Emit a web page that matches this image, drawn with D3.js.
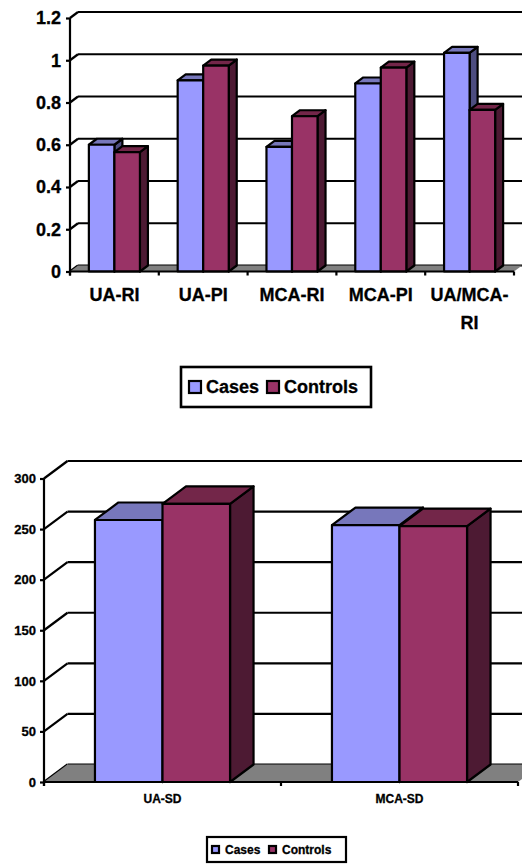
<!DOCTYPE html>
<html>
<head>
<meta charset="utf-8">
<script src="https://cdn.jsdelivr.net/npm/d3@7"></script>
<style>
  html, body { margin: 0; padding: 0; background: #fff; }
  svg { display: block; }
  text { font-family: "Liberation Sans", Arial, sans-serif; font-weight: bold; fill: #000; stroke: #000; stroke-width: 0.3px; }
</style>
</head>
<body>
<svg id="chart" width="522" height="867"></svg>
<script>
// DATA
const seriesNames = ["Cases", "Controls"];

const indexCategories = ["UA-RI", "UA-PI", "MCA-RI", "MCA-PI", "UA/MCA-RI"];
const indexCases = [0.6, 0.905, 0.59, 0.89, 1.035];
const indexControls = [0.565, 0.975, 0.735, 0.965, 0.765];
const indexTicks = [0, 0.2, 0.4, 0.6, 0.8, 1, 1.2];

const sdCategories = ["UA-SD", "MCA-SD"];
const sdCases = [259, 254];
const sdControls = [275, 253];
const sdTicks = [0, 50, 100, 150, 200, 250, 300];

// colours per series: front, top, side
const colors = {
  Cases: ["#9999ff", "#7777bb", "#4d4d80"],
  Controls: ["#993366", "#732649", "#4d1a33"]
};

const svg = d3.select("#chart");

// one fake-3D column chart, the depth is a fixed offset up and to the right
function drawChart(o) {
  const g = svg.append("g");

  const x0 = d3.scaleBand()
    .domain(o.categories)
    .range([o.left, o.right])
    .paddingInner(o.padding)
    .paddingOuter(o.padding / 2);

  const x1 = d3.scaleBand()
    .domain(seriesNames)
    .range([0, x0.bandwidth()]);

  const y = d3.scaleLinear()
    .domain(o.domain)
    .range([o.bottom, o.top]);

  // back wall gridlines and the diagonals on the left wall
  g.selectAll("line.grid")
    .data(o.ticks)
    .enter()
    .append("line")
    .attr("class", "grid")
    .attr("x1", o.left + o.dx)
    .attr("x2", o.right + o.dx)
    .attr("y1", (d) => y(d) - o.dy)
    .attr("y2", (d) => y(d) - o.dy)
    .attr("stroke", "#000")
    .attr("stroke-width", o.line);

  g.selectAll("line.diag")
    .data(o.ticks)
    .enter()
    .append("line")
    .attr("class", "diag")
    .attr("x1", o.left)
    .attr("x2", o.left + o.dx)
    .attr("y1", (d) => y(d))
    .attr("y2", (d) => y(d) - o.dy)
    .attr("stroke", "#000")
    .attr("stroke-width", o.line);

  // grey floor
  g.append("path")
    .attr("d", `M${o.left},${y(0)}L${o.left + o.dx},${y(0) - o.dy}L${o.right + o.dx},${y(0) - o.dy}L${o.right},${y(0)}Z`)
    .attr("fill", "#808080");

  // bars
  o.categories.forEach((c, i) => {
    seriesNames.forEach((s, j) => {
      const v = o.values[j][i];
      const bx = x0(c) + x1(s);
      const bw = x1.bandwidth();
      const by = y(v);
      const by0 = y(0);
      const col = colors[s];

      const bar = g.append("g")
        .attr("stroke", "#000")
        .attr("stroke-width", o.line)
        .attr("stroke-linejoin", "round");

      bar.append("path")
        .attr("d", `M${bx + bw},${by}L${bx + bw + o.dx},${by - o.dy}L${bx + bw + o.dx},${by0 - o.dy}L${bx + bw},${by0}Z`)
        .attr("fill", col[2]);
      bar.append("path")
        .attr("d", `M${bx},${by}L${bx + o.dx},${by - o.dy}L${bx + bw + o.dx},${by - o.dy}L${bx + bw},${by}Z`)
        .attr("fill", col[1]);
      bar.append("rect")
        .attr("x", bx)
        .attr("y", by)
        .attr("width", bw)
        .attr("height", by0 - by)
        .attr("fill", col[0]);
    });
  });

  // axes
  const axisLeft = d3.axisLeft(y)
    .tickValues(o.ticks)
    .tickSize(o.tick)
    .tickPadding(o.yPad)
    .tickFormat((d) => d);

  const yAxis = g.append("g")
    .attr("transform", `translate(${o.left},0)`)
    .call(axisLeft);
  yAxis.selectAll("text").style("font-size", o.yFont + "px");
  yAxis.selectAll("path, line").attr("stroke", "#000").attr("stroke-width", o.line);
  yAxis.select(".domain").attr("d", `M0,${o.top}V${o.bottom + o.tick}`);

  // category ticks sit on the band edges, not the centres
  const edges = o.categories.map((c) => x0(c) - x0.step() * o.padding / 2)
    .concat([o.right]);
  g.selectAll("line.xtick")
    .data(edges)
    .enter()
    .append("line")
    .attr("class", "xtick")
    .attr("x1", (d) => d)
    .attr("x2", (d) => d)
    .attr("y1", y(0))
    .attr("y2", y(0) + o.tick)
    .attr("stroke", "#000")
    .attr("stroke-width", o.line);
  g.append("line")
    .attr("x1", o.left)
    .attr("x2", o.right)
    .attr("y1", y(0))
    .attr("y2", y(0))
    .attr("stroke", "#000")
    .attr("stroke-width", o.line);

  // category labels, the long one wraps after the hyphen
  o.categories.forEach((c) => {
    const lines = c === "UA/MCA-RI" ? ["UA/MCA-", "RI"] : [c];
    const label = g.append("text")
      .attr("text-anchor", "middle")
      .style("font-size", o.xFont + "px");
    lines.forEach((t, k) => {
      label.append("tspan")
        .attr("x", x0(c) + x0.bandwidth() / 2)
        .attr("y", o.labelY + k * o.labelStep)
        .text(t);
    });
  });

  // legend
  const leg = g.append("g");
  leg.append("rect")
    .attr("x", o.legend.x)
    .attr("y", o.legend.y)
    .attr("width", o.legend.w)
    .attr("height", o.legend.h)
    .attr("fill", "#fff")
    .attr("stroke", "#000")
    .attr("stroke-width", o.legend.stroke);
  seriesNames.forEach((s, j) => {
    leg.append("rect")
      .attr("x", o.legend.keys[j])
      .attr("y", o.legend.y + (o.legend.h - o.legend.key) / 2)
      .attr("width", o.legend.key)
      .attr("height", o.legend.key)
      .attr("fill", colors[s][0])
      .attr("stroke", "#000")
      .attr("stroke-width", o.line);
    leg.append("text")
      .attr("x", o.legend.text[j])
      .attr("y", o.legend.y + o.legend.h / 2)
      .attr("dy", "0.36em")
      .style("font-size", o.legend.font + "px")
      .text(s);
  });
}

drawChart({
  categories: indexCategories,
  values: [indexCases, indexControls],
  ticks: indexTicks,
  domain: [0, 1.2],
  left: 70, right: 514, top: 18, bottom: 271.5,
  padding: 0.425, dx: 8, dy: 6, line: 2.2, tick: 4, yPad: 5, yFont: 18,
  xFont: 18, labelY: 301, labelStep: 28,
  legend: { x: 181, y: 367, w: 190, h: 40, stroke: 2.6, key: 12, keys: [189, 267], text: [206, 284], font: 18 }
});

drawChart({
  categories: sdCategories,
  values: [sdCases, sdControls],
  ticks: sdTicks,
  domain: [0, 300],
  left: 44, right: 518, top: 478.5, bottom: 782,
  padding: 0.43, dx: 23.5, dy: 17.5, line: 2.2, tick: 4, yPad: 4, yFont: 13,
  xFont: 12, labelY: 803, labelStep: 14,
  legend: { x: 207, y: 837, w: 139, h: 25, stroke: 2.2, key: 7, keys: [212, 269], text: [225, 282], font: 12 }
});
</script>
</body>
</html>
